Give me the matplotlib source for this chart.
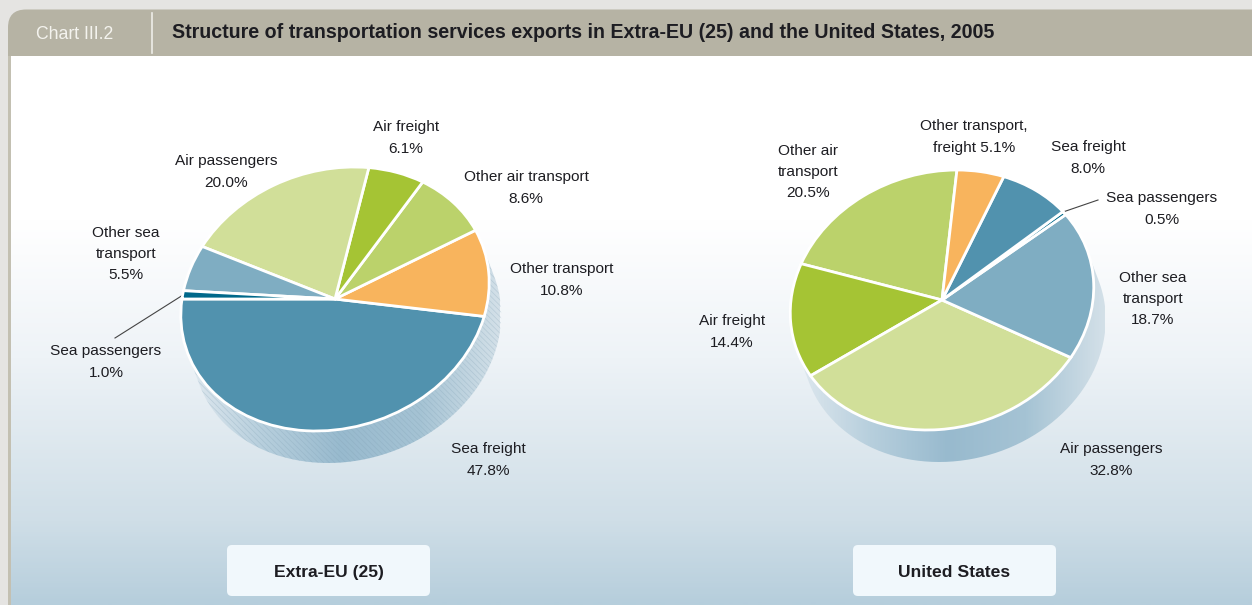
import numpy as np
import matplotlib
matplotlib.use('Agg')
import matplotlib.pyplot as plt
from matplotlib.colors import LinearSegmentedColormap
from matplotlib.patches import FancyBboxPatch, PathPatch
from matplotlib.path import Path
from matplotlib.transforms import Affine2D

plt.rcParams['font.family'] = ['Liberation Sans', 'DejaVu Sans']
plt.rcParams['hatch.linewidth'] = 0.5

W, H = 1252, 605

# data, counter clockwise from the start angle
eu_labels = ['Sea freight\n47.8%', 'Other transport\n10.8%', 'Other air transport\n8.6%', 'Air freight\n6.1%',
             'Air passengers\n20.0%', 'Other sea\ntransport\n5.5%', 'Sea passengers\n1.0%']
eu_values = [47.8, 10.8, 8.6, 6.1, 20.0, 5.5, 1.0]
us_labels = ['Other air\ntransport\n20.5%', 'Air freight\n14.4%', 'Air passengers\n32.8%', 'Other sea\ntransport\n18.7%',
             'Sea passengers\n0.5%', 'Sea freight\n8.0%', 'Other transport,\nfreight 5.1%']
us_values = [20.5, 14.4, 32.8, 18.7, 0.5, 8.0, 5.1]

# styles and label positions (pixels)
eu_colors = ['#5192ae', '#f8b45d', '#bbd26b', '#a5c434', '#d1df99', '#7fadc2', '#00688a']
us_colors = ['#bbd26b', '#a5c434', '#d1df99', '#7fadc2', '#00688a', '#5192ae', '#f8b45d']
eu_pos = [(488, 460), (562, 280), (526, 188), (406, 138), (226, 172), (126, 254), (106, 362)]
us_pos = [(808, 172), (732, 332), (1111, 460), (1153, 299), (1162, 209), (1088, 158), (974, 137)]

fig = plt.figure(figsize=(W / 100, H / 100), dpi=100, facecolor='#e5e4e2')
bg = fig.add_axes([0, 0, 1, 1])
bg.set_xlim(0, W)
bg.set_ylim(H, 0)
bg.axis('off')

# panel with vertical gradient
panel = FancyBboxPatch((8, 24), 1400, 700, boxstyle='round,pad=0,rounding_size=18',
                       fc='#c3c0b2', ec='none', transform=bg.transData)
bg.add_patch(panel)
cm = LinearSegmentedColormap.from_list('panel', [(0, '#ffffff'), (0.3, '#ffffff'), (0.55, '#eef3f7'),
                                                 (0.85, '#cfdee7'), (1, '#b6cedc')])
grad = np.linspace(0, 1, 300).reshape(-1, 1)
bg.imshow(grad, extent=(10.5, W, H, 56), cmap=cm, aspect='auto', zorder=1)
bg.set_xlim(0, W)
bg.set_ylim(H, 0)

head = FancyBboxPatch((8, 9.5), 1400, 300, boxstyle='round,pad=0,rounding_size=18', fc='#b6b3a4', ec='none', zorder=2)
bg.add_patch(head)
head_clip = FancyBboxPatch((0, 0), W, 56, boxstyle='square,pad=0', transform=bg.transData)
head.set_clip_path(head_clip)
bg.plot([152, 152], [13, 53], color='#eeede8', lw=1.2, zorder=3)
bg.text(36, 34.5, 'Chart III.2', color='#f4f3ee', fontsize=12.7, va='center', zorder=3)
bg.text(172, 33, 'Structure of transportation services exports in Extra-EU (25) and the United States, 2005',
        color='#1d1d22', fontsize=14.15, fontweight='bold', va='center', zorder=3)


def draw_pie(values, colors, labels, pos, cx, cy, rx, ry, shear, start, name, box_x, hatch):
    # extruded side, sweep of the sheared ellipse along (dx, dy)
    dx, dy = 12, 32
    t = np.linspace(0, 2 * np.pi, 400, endpoint=False)
    x = cx + rx * np.cos(t) - shear * ry * np.sin(t)
    y = cy + ry * np.sin(t)
    # half of the outline facing the offset is moved
    mask = dx * ry * np.cos(t) + dy * (rx * np.sin(t) + shear * ry * np.cos(t)) >= 0
    idx = np.roll(np.arange(400), -int(np.argmax(mask & ~np.roll(mask, 1))))
    x, y, m = x[idx], y[idx], mask[idx]
    side = Path(np.column_stack([np.where(m, x + dx, x), np.where(m, y + dy, y)]))
    side_cm = LinearSegmentedColormap.from_list('side', ['#e2eaf0', '#b7cfdd', '#98bace', '#a5c3d4', '#d3e0e8'])
    im = bg.imshow(np.linspace(0, 1, 200).reshape(1, -1), extent=(cx - rx, cx + rx + dx, H, 0), cmap=side_cm,
                   aspect='auto', zorder=4)
    im.set_clip_path(PathPatch(side, transform=bg.transData))
    if hatch:
        bg.add_patch(PathPatch(side, fc='none', ec='#7f9fb3', hatch='\\\\\\\\\\\\', lw=0, alpha=0.3, zorder=4.5))
    bg.set_xlim(0, W)
    bg.set_ylim(H, 0)

    # the pie itself on its own stretched axes, sheared like the picture
    m_ = 1.2
    ax = fig.add_axes([(cx - m_ * rx) / W, 1 - (cy + m_ * ry) / H, 2 * m_ * rx / W, 2 * m_ * ry / H], zorder=5)
    wedges, _ = ax.pie(values, colors=colors, startangle=start, counterclock=True, radius=1,
                       wedgeprops={'edgecolor': 'white', 'linewidth': 2})
    ax.set_aspect('auto')
    ax.set_xlim(-m_, m_)
    ax.set_ylim(-m_, m_)
    tr = Affine2D(np.array([[1, shear * ry / rx, 0], [0, 1, 0], [0, 0, 1]])) + ax.transData
    for w in wedges:
        w.set_transform(tr)

    for lab, (lx, ly) in zip(labels, pos):
        bg.text(lx, ly, lab, ha='center', va='center', fontsize=11.1, color='#1d1d22', linespacing=1.68, zorder=6)

    box = FancyBboxPatch((box_x, 545), 203, 51, boxstyle='round,pad=0,rounding_size=5', fc='#f1f8fc', ec='none', zorder=6)
    bg.add_patch(box)
    bg.text(box_x + 101.5, 572.5, name, ha='center', va='center', fontsize=12.6, fontweight='bold', color='#1d1d22', zorder=7)


draw_pie(eu_values, eu_colors, eu_labels, eu_pos, 335, 299, 153, 132, 0.144, 180, 'Extra-EU (25)', 227, True)
draw_pie(us_values, us_colors, us_labels, us_pos, 942, 300, 151, 130, 0.115, 90, 'United States', 853, False)

# leader lines
bg.plot([183, 115], [295, 338], color='#444444', lw=0.8, zorder=7)
bg.plot([1063, 1098], [212, 200], color='#444444', lw=0.8, zorder=7)

fig.savefig('out.png', dpi=100, facecolor=fig.get_facecolor())
